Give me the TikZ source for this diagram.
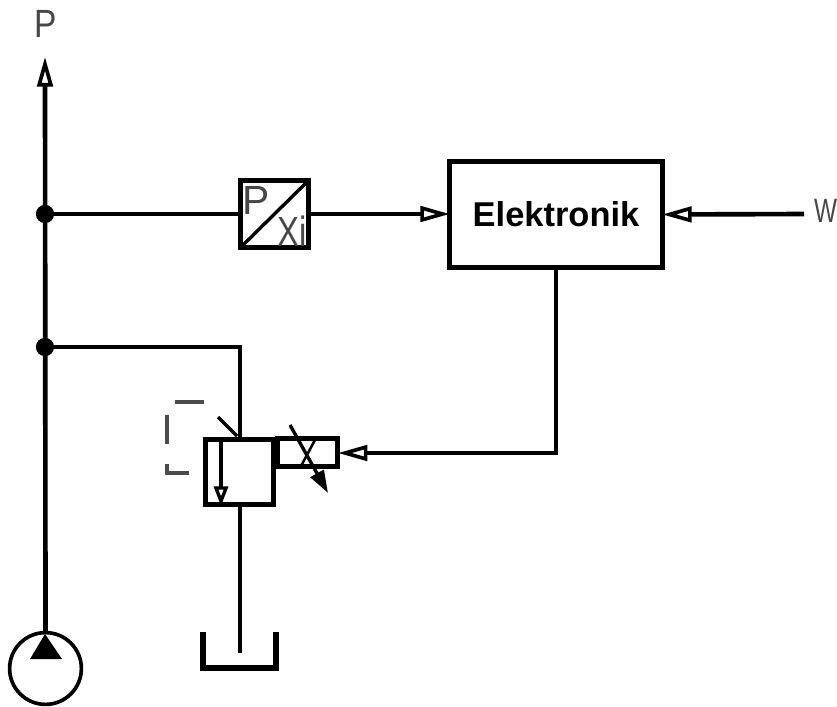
\documentclass[tikz,border=0pt]{standalone}
\usepackage{fontspec}
\setmainfont{Liberation Sans}
\usetikzlibrary{arrows.meta}
\tikzset{
	line/.style={line width=3.3pt},
	thinline/.style={line width=2.4pt},
	openarrow/.style={-{Triangle[open,length=21pt,width=11pt,line width=2.6pt]}},
	block/.style={draw,line width=3.6pt,inner sep=0pt,outer sep=0pt},
	junction/.style={circle,fill,inner sep=0pt,minimum size=13pt},
	label/.style={text=black!72,inner sep=0pt}
}
\begin{document}
\begin{tikzpicture}[x=0.025cm,y=-0.025cm]
	\useasboundingbox (0,0) rectangle (837,706);

	% Blocks
	\node[block,minimum width=213pt*0.709,minimum height=106pt*0.709] (elektronik) at (556,214.5) {\fontsize{24.5}{24.5}\selectfont\bfseries Elektronik};
	\node[block,minimum width=69pt*0.709,minimum height=68pt*0.709] (wandler) at (274.5,214) {};
	\node[block,minimum width=69pt*0.709,minimum height=66pt*0.709] (ventil) at (239.5,472) {};
	\node[block,minimum width=61pt*0.709,minimum height=29pt*0.709] (magnet) at (307.5,452.5) {};
	\node[circle,draw,line width=2.6pt,inner sep=0pt,outer sep=0pt,minimum size=72pt*0.709] (pump) at (45.5,668.5) {};

	% Junctions
	\node[junction] (j1) at (45,214) {};
	\node[junction] (j2) at (45,347) {};

	% Free ends
	\coordinate (ptop) at (45,57);
	\coordinate (wend) at (804,214);
	\coordinate (knick) at (240,347);
	\coordinate (ecke) at (556,453);
	\coordinate (tankin) at (240,653);

	% Texts
	\node[label,font=\fontsize{28}{28}\selectfont] (ptext) at (46,24) {\scalebox{.85}[1]{P}};
	\node[label,font=\fontsize{24}{24}\selectfont] (wtext) at (825.5,210.5) {\scalebox{.72}[1]{W}};
	\node[label,font=\fontsize{29}{29}\selectfont] (pin) at (256,200) {P};
	\node[label,font=\fontsize{30}{30}\selectfont] (xi) at (292.5,231.5) {\scalebox{.78}[1]{Xi}};

	% Connectors
	\draw[line,openarrow] (pump.north) -- (ptop);
	\draw[line] (j1) -- (wandler.west);
	\draw[line,openarrow] (wandler.east) -- (elektronik.west |- wandler.east);
	\draw[line,openarrow] (wend) -- (elektronik.east);
	\draw[line] (j2) -- (knick) -- (ventil.north -| knick);
	\draw[line,openarrow] (elektronik.south) -- (ecke) -- (magnet.east |- ecke);
	\draw[line] (ventil.south -| tankin) -- (tankin);

	% Pump triangle
	\fill (45,634) -- (62,659) -- (30,659) -- cycle;

	% Converter diagonal
	\draw[thinline] (wandler.south west) -- (wandler.north east);

	% Valve details
	\draw[thinline] (218,417) -- (237,436);
	\draw[thinline,-{Triangle[open,length=14pt,width=10pt,line width=2.4pt]}] (221,438) -- (221,506);
	\draw[line width=1.8pt] (316,438) -- (300,468);
	\draw[thinline,-{Triangle[length=16pt,width=10.5pt]}] (290,425) -- (328,493);

	% Pilot line
	\draw[line width=2.6pt,black!70] (175,402) -- (204,402);
	\draw[line width=2.6pt,black!70] (167,415) -- (167,444);
	\draw[line width=2.6pt,black!70] (167,464) -- (167,473) -- (189,473);

	% Tank
	\draw[line,line width=3.6pt] (203,632) -- (203,668) -- (276,668) -- (276,632);
\end{tikzpicture}
\end{document}
